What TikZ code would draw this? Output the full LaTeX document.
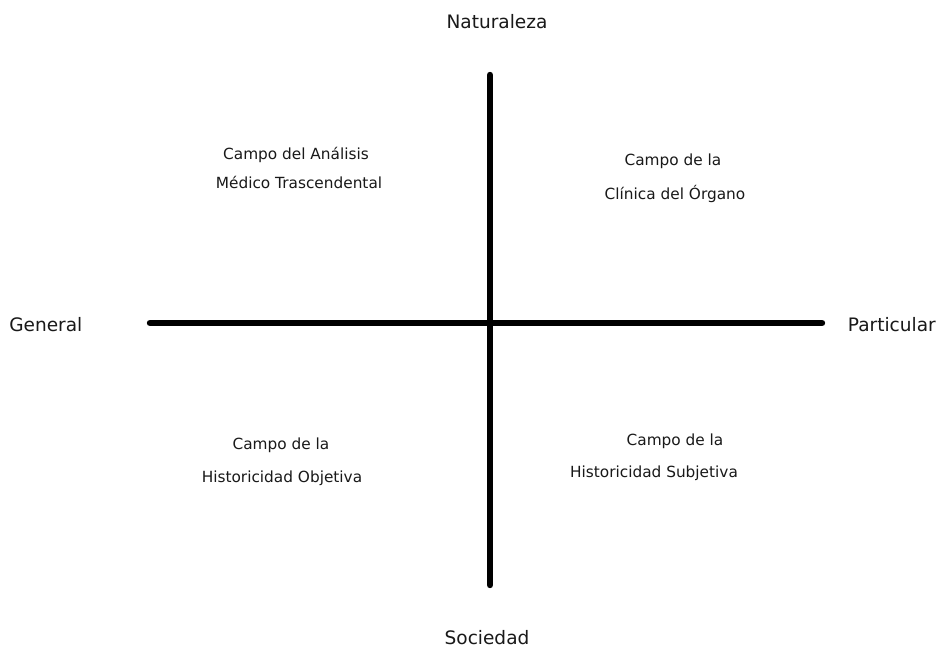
\documentclass[tikz,border=0pt]{standalone}
\usepackage{fontspec}
\setmainfont{DejaVu Sans}
\begin{document}
\begin{tikzpicture}[x=0.75pt,y=-0.75pt,
  axis/.style={line width=4.8pt,line cap=round,black},
  biglabel/.style={font=\fontsize{13.9}{16}\selectfont,inner sep=0pt,text=black!90},
  fieldlabel/.style={font=\fontsize{11.5}{13}\selectfont,inner sep=0pt,text=black!90}]
\useasboundingbox (0,0) rectangle (938,650);
\fill[white] (0,0) rectangle (938,650);
% axis ends
\coordinate (L) at (150,323);
\coordinate (R) at (822,323);
\coordinate (T) at (490,75);
\coordinate (B) at (490,585);
\draw[axis] (L) -- (R);
\draw[axis] (T) -- (B);
% axis labels
\node[biglabel] (nat) at (497,22) {Naturaleza};
\node[biglabel] (soc) at (487,638) {Sociedad};
\node[biglabel,anchor=west] (gen) at (9,325) {General};
\node[biglabel,anchor=east] (par) at (936,325) {Particular};
% quadrant labels
\node[fieldlabel] (q1a) at (296,155) {Campo del Análisis};
\node[fieldlabel] (q1b) at (299,182) {Médico Trascendental};
\node[fieldlabel] (q2a) at (673,161) {Campo de la};
\node[fieldlabel] (q2b) at (675,194) {Clínica del Órgano};
\node[fieldlabel] (q3a) at (281,445) {Campo de la};
\node[fieldlabel] (q3b) at (282,478) {Historicidad Objetiva};
\node[fieldlabel] (q4a) at (675,441) {Campo de la};
\node[fieldlabel] (q4b) at (654,473) {Historicidad Subjetiva};
\end{tikzpicture}
\end{document}
